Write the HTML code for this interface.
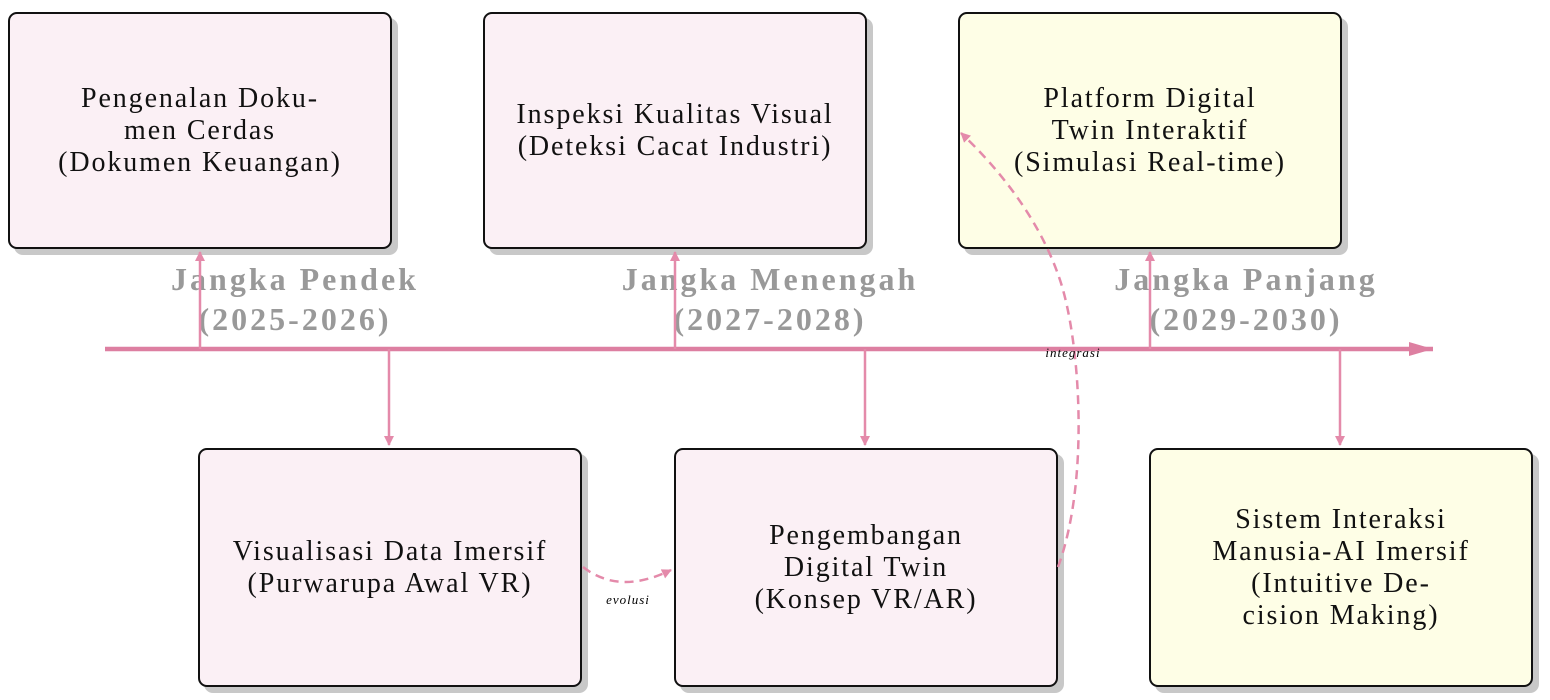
<!DOCTYPE html>
<html><head><meta charset="utf-8"><style>
body{margin:0;width:1550px;height:700px;background:#fff;position:relative;overflow:hidden;font-family:"Liberation Serif",serif}
.b{position:absolute;width:380px;height:232px;border:2.8px solid #111;border-radius:9px;box-shadow:6px 6px 0 #c8c8c8;display:flex;align-items:center;justify-content:center;text-align:center;font-size:28px;letter-spacing:1.9px;line-height:32px;color:#111;box-sizing:border-box}
.p{background:#fbf0f5}.y{background:#fefee6}
.l{position:absolute;width:360px;text-align:center;font-weight:bold;color:#999;font-size:32px;letter-spacing:3px;line-height:40px}
svg{position:absolute;left:0;top:0}
</style></head><body>
<div class="b p" style="left:8px;top:12px;width:384px;height:237px">Pengenalan Doku-<br>men Cerdas<br>(Dokumen Keuangan)</div>
<div class="b p" style="left:483px;top:12px;width:384px;height:237px">Inspeksi Kualitas Visual<br>(Deteksi Cacat Industri)</div>
<div class="b y" style="left:958px;top:12px;width:384px;height:237px">Platform Digital<br>Twin Interaktif<br>(Simulasi Real-time)</div>
<div class="b p" style="left:198px;top:448px;width:384px;height:239px">Visualisasi Data Imersif<br>(Purwarupa Awal VR)</div>
<div class="b p" style="left:674px;top:448px;width:384px;height:239px">Pengembangan<br>Digital Twin<br>(Konsep VR/AR)</div>
<div class="b y" style="left:1149px;top:448px;width:384px;height:239px">Sistem Interaksi<br>Manusia-AI Imersif<br>(Intuitive De-<br>cision Making)</div>
<div class="l" style="left:115px;top:259px">Jangka Pendek<br>(2025-2026)</div>
<div class="l" style="left:590px;top:259px">Jangka Menengah<br>(2027-2028)</div>
<div class="l" style="left:1066px;top:259px">Jangka Panjang<br>(2029-2030)</div>
<svg width="1550" height="700">
<defs><marker id="a" markerWidth="10" markerHeight="10" refX="9" refY="5" orient="auto" markerUnits="userSpaceOnUse"><path d="M0,0 L10,5 L0,10z" fill="#e48aaa"/></marker>
<marker id="m" markerWidth="26" markerHeight="14" refX="24" refY="7" orient="auto" markerUnits="userSpaceOnUse"><path d="M0,0 L24,7 L0,14z" fill="#dd7fa1"/></marker></defs>
<line x1="105" y1="349" x2="1433" y2="349" stroke="#dd7fa1" stroke-width="4.5" marker-end="url(#m)"/>
<g stroke="#e48aaa" stroke-width="2.5" fill="none">
<line x1="200" y1="349" x2="200" y2="252" marker-end="url(#a)"/>
<line x1="675" y1="349" x2="675" y2="252" marker-end="url(#a)"/>
<line x1="1150" y1="349" x2="1150" y2="252" marker-end="url(#a)"/>
<line x1="389" y1="349" x2="389" y2="445" marker-end="url(#a)"/>
<line x1="865" y1="349" x2="865" y2="445" marker-end="url(#a)"/>
<line x1="1340" y1="349" x2="1340" y2="445" marker-end="url(#a)"/>
<path d="M583,567 C610,588 640,585 671,570" stroke-dasharray="9,6" marker-end="url(#a)"/>
<path d="M1058,567 C1090,480 1080,340 1060,280 C1040,220 1000,170 961,133" stroke-dasharray="9,6" marker-end="url(#a)"/>
</g>
<text x="628" y="604" font-size="13" font-style="italic" text-anchor="middle" font-family="Liberation Serif" letter-spacing="1">evolusi</text>
<text x="1073" y="357" font-size="13" font-style="italic" text-anchor="middle" font-family="Liberation Serif" letter-spacing="1">integrasi</text>
</svg>
</body></html>
